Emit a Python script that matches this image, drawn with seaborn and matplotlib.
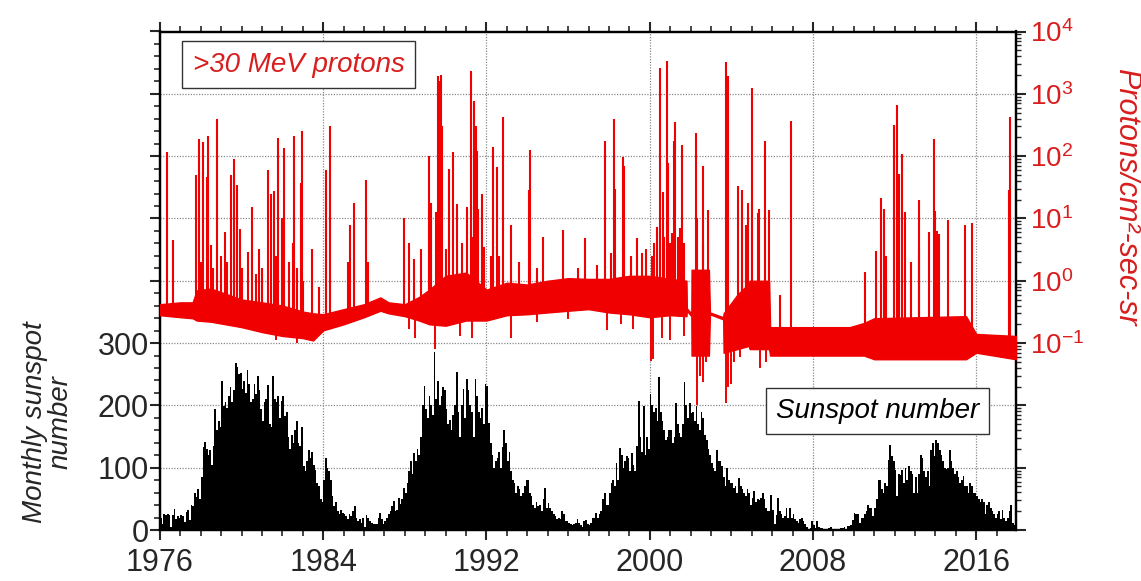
import numpy as np
import pandas as pd
import matplotlib
matplotlib.use("Agg")
import matplotlib.pyplot as plt
import seaborn as sns
from matplotlib.ticker import MultipleLocator, FixedLocator, FuncFormatter, LogLocator, NullFormatter

# ---------------- data ----------------
first_year = 1976
ssn_1976_1986 = [
    [19, 10, 26, 24, 26, 24, 5, 24, 33, 17, 23, 20],
    [24, 22, 13, 29, 32, 16, 40, 38, 60, 53, 66, 50],
    [85, 134, 141, 130, 120, 128, 105, 135, 194, 160, 175, 165],
    [239, 199, 205, 195, 215, 230, 205, 225, 268, 262, 250, 252],
    [226, 239, 220, 257, 235, 205, 210, 234, 218, 247, 225, 194],
    [175, 205, 210, 232, 170, 165, 247, 210, 205, 215, 180, 207],
    [215, 183, 190, 150, 130, 153, 140, 160, 175, 140, 135, 165],
    [102, 95, 110, 129, 115, 125, 105, 97, 75, 70, 50, 45],
    [81, 116, 100, 95, 80, 55, 38, 45, 30, 25, 32, 27],
    [26, 22, 18, 25, 22, 30, 39, 20, 15, 18, 11, 20],
    [5, 24, 20, 15, 12, 10, 10, 9, 20, 28, 18, 9],
]
ssn_1987_1996 = [
    [15, 20, 25, 30, 38, 46, 30, 32, 51, 42, 50, 67],
    [60, 75, 95, 110, 90, 124, 110, 130, 120, 150, 200, 231],
    [194, 180, 215, 200, 185, 285, 210, 239, 200, 215, 230, 225],
    [194, 170, 177, 160, 185, 200, 253, 190, 150, 200, 226, 180],
    [242, 225, 200, 190, 150, 242, 215, 190, 180, 195, 170, 234],
    [231, 172, 140, 120, 100, 110, 115, 125, 100, 134, 160, 140],
    [110, 125, 95, 81, 75, 60, 70, 65, 55, 60, 70, 81],
    [81, 60, 55, 40, 35, 45, 38, 40, 30, 50, 67, 35],
    [43, 35, 30, 25, 22, 18, 20, 17, 30, 25, 15, 15],
    [12, 10, 8, 10, 12, 18, 12, 8, 5, 14, 16, 10],
]
ssn_1997_2008 = [
    [8, 12, 20, 20, 28, 20, 25, 30, 50, 59, 40, 40],
    [60, 75, 81, 70, 108, 80, 132, 120, 100, 110, 118, 115],
    [95, 124, 105, 95, 135, 207, 150, 125, 199, 120, 150, 130],
    [218, 200, 190, 195, 175, 245, 190, 175, 160, 145, 150, 160],
    [160, 140, 150, 204, 170, 155, 150, 170, 237, 200, 180, 204],
    [188, 190, 175, 199, 170, 160, 190, 180, 153, 145, 130, 120],
    [108, 100, 95, 129, 110, 110, 102, 85, 70, 100, 80, 75],
    [75, 68, 70, 60, 83, 70, 65, 60, 54, 65, 60, 40],
    [52, 62, 45, 50, 48, 52, 59, 50, 35, 30, 30, 56],
    [32, 10, 24, 51, 30, 25, 20, 22, 35, 20, 35, 20],
    [25, 18, 15, 12, 18, 20, 15, 10, 5, 2, 3, 15],
    [8, 4, 15, 5, 4, 4, 1, 1, 2, 3, 5, 2],
]
ssn_2009_2017 = [
    [2, 2, 1, 1, 4, 4, 5, 0, 7, 7, 8, 16],
    [27, 25, 25, 12, 20, 20, 25, 30, 40, 35, 35, 22],
    [35, 50, 81, 80, 65, 60, 75, 70, 113, 137, 119, 110],
    [97, 55, 90, 88, 97, 75, 100, 80, 102, 95, 90, 60],
    [85, 60, 90, 121, 115, 95, 85, 95, 70, 129, 140, 118],
    [145, 140, 128, 120, 110, 100, 98, 100, 129, 110, 100, 90],
    [95, 85, 75, 80, 86, 70, 70, 60, 75, 70, 60, 60],
    [55, 50, 45, 50, 45, 25, 40, 45, 35, 30, 25, 20],
    [25, 30, 18, 32, 20, 15, 20, 30, 40, 12, 8, 15],
]

# proton background band (flux, protons/cm2-sec-sr)
band_years = [1976.0, 1977.0, 1977.6, 1977.8, 1978.5, 1980.0, 1981.0, 1982.0, 1983.0, 1983.5,
              1984.0, 1985.0, 1986.0, 1986.8, 1987.2, 1988.0, 1988.7, 1989.2, 1990.0, 1991.0,
              1992.0, 1993.0, 1994.0, 1995.0, 1996.0, 1997.0, 1998.0, 1999.0, 2000.0, 2001.0,
              2001.8, 2001.82, 2002.04, 2002.05, 2002.9, 2002.95, 2003.6, 2003.62, 2004.3, 2004.85,
              2004.9, 2005.85, 2005.9, 2009.8, 2010.5, 2011.0, 2015.5, 2016.0, 2017.95]
band_low = [0.28, 0.26, 0.25, 0.23, 0.22, 0.18, 0.15, 0.13, 0.12, 0.11,
            0.16, 0.20, 0.26, 0.33, 0.30, 0.27, 0.23, 0.20, 0.19, 0.23,
            0.23, 0.28, 0.29, 0.31, 0.33, 0.35, 0.31, 0.29, 0.26, 0.28,
            0.27, 0.33, 0.27, 0.063, 0.063, 0.29, 0.24, 0.07, 0.08, 0.09,
            0.08, 0.08, 0.063, 0.063, 0.063, 0.055, 0.055, 0.07, 0.055]
band_high = [0.42, 0.45, 0.45, 0.70, 0.75, 0.50, 0.45, 0.40, 0.32, 0.30,
             0.29, 0.35, 0.42, 0.54, 0.45, 0.42, 0.55, 0.72, 1.2, 1.35,
             0.72, 0.93, 0.87, 1.0, 1.1, 1.07, 1.07, 1.2, 1.2, 1.07,
             1.0, 0.36, 0.30, 1.5, 1.5, 0.31, 0.26, 0.30, 0.60, 0.90,
             1.0, 1.0, 0.18, 0.18, 0.21, 0.25, 0.27, 0.14, 0.13]

# solar proton events: time and peak flux
spike_years = [1976.36, 1976.65, 1977.75, 1977.91, 1978.0, 1978.12, 1978.30, 1978.37, 1978.48, 1978.6,
               1978.78, 1979.0, 1979.18, 1979.3, 1979.46, 1979.63, 1979.76, 1979.92, 1980.0, 1980.30,
               1980.52, 1980.7, 1980.83, 1981.0, 1981.31, 1981.45, 1981.59, 1981.7, 1981.80, 1982.00,
               1982.09, 1982.3, 1982.50, 1982.57, 1982.7, 1982.90, 1982.94, 1983.0, 1983.46, 1983.8,
               1984.12, 1984.33, 1985.20, 1985.31, 1985.50, 1986.09, 1986.20, 1987.97, 1988.20, 1988.45,
               1988.80, 1989.20, 1989.30, 1989.55, 1989.64, 1989.68, 1989.73, 1989.78, 1989.84, 1990.0,
               1990.16, 1990.37, 1990.57, 1990.8, 1991.06, 1991.24, 1991.3, 1991.40, 1991.47, 1991.52,
               1991.60, 1991.80, 1991.9, 1992.20, 1992.33, 1992.50, 1992.6, 1992.82, 1993.18, 1993.6,
               1994.10, 1994.13, 1994.5, 1994.78, 1995.76, 1996.5, 1996.84, 1997.4, 1997.80, 1998.1,
               1998.26, 1998.30, 1998.67, 1998.75, 1999.10, 1999.40, 1999.60, 1999.8, 2000.10, 2000.2,
               2000.37, 2000.50, 2000.65, 2000.7, 2000.86, 2000.90, 2001.0, 2001.10, 2001.20, 2001.26,
               2001.4, 2001.50, 2001.59, 2001.7, 2002.26, 2002.30, 2002.60, 2002.62, 2002.86, 2003.76,
               2003.83, 2004.33, 2004.53, 2004.70, 2004.82, 2005.02, 2005.31, 2005.35, 2005.64, 2005.85,
               2006.4, 2006.90, 2010.55, 2011.11, 2011.35, 2011.50, 2011.60, 2011.98, 2012.12, 2012.20,
               2012.34, 2012.50, 2012.80, 2013.19, 2013.20, 2013.69, 2013.92, 2014.00, 2014.10, 2014.20,
               2014.62, 2015.44, 2015.77, 2017.60, 2017.68]
spike_peaks = [117, 4.5, 50, 190, 2.0, 170, 47, 210, 3.7, 1.6,
               400, 2.5, 6.0, 2.0, 50, 89, 35, 6.8, 1.6, 2.9,
               15, 1.3, 3.2, 1.6, 59, 25, 28, 2.5, 195, 10,
               135, 2.0, 4.0, 210, 1.6, 37, 250, 1.0, 3.2, 0.8,
               59, 310, 2.0, 7.8, 18, 41, 2.0, 10, 4.0, 2.2,
               3.2, 100, 18, 12.6, 1950, 1400, 1600, 2000, 300, 3.2,
               63, 115, 17, 4.0, 15, 2300, 5.0, 780, 300, 120,
               14, 25, 3.5, 2.5, 140, 66, 2.5, 430, 7.8, 2.0,
               29, 126, 1.6, 5.1, 6.5, 1.6, 4.9, 1.8, 174, 2.8,
               400, 30, 98, 69, 2.5, 4.9, 2.8, 3.2, 2.5, 4.0,
               7.4, 2600, 27, 5.0, 3400, 79, 4.0, 5.9, 174, 350,
               5.0, 7.1, 150, 4.0, 234, 10, 4.0, 69, 13.8, 3200,
               1900, 33, 29, 7.9, 18, 1230, 12.3, 14, 174, 13.8,
               0.6, 370, 1.4, 3.0, 21, 14, 2.5, 316, 650, 52,
               110, 12.6, 2.0, 20, 3.2, 6.0, 186, 13.2, 6.3, 5.6,
               9.3, 7.9, 8.3, 29, 430]

# downward excursions of the background
dip_years = [1981.7, 1982.7, 1983.3, 1988.2, 1988.5, 1989.5, 1990.7, 1991.3, 1993.2, 1994.5,
             1996.0, 1997.9, 1998.6, 1999.2, 2000.04, 2000.15, 2000.6, 2001.0, 2001.7, 2002.3,
             2002.45, 2002.6, 2002.75, 2003.75, 2003.85, 2004.0, 2004.15, 2004.4, 2005.4, 2005.7]
dip_values = [0.11, 0.10, 0.115, 0.17, 0.12, 0.08, 0.13, 0.12, 0.12, 0.22,
              0.24, 0.16, 0.2, 0.17, 0.052, 0.055, 0.12, 0.11, 0.13, 0.01,
              0.03, 0.024, 0.05, 0.011, 0.02, 0.022, 0.05, 0.06, 0.04, 0.05]

x_major = [1976, 1984, 1992, 2000, 2008, 2016]
left_labelled = [0, 100, 200, 300]

# ---------------- style ----------------
sns.set_style("white")
plt.rcParams["font.family"] = ["Liberation Sans", "DejaVu Sans"]
plt.rcParams["mathtext.fontset"] = "custom"
plt.rcParams["mathtext.rm"] = "Liberation Sans"
plt.rcParams["mathtext.it"] = "Liberation Sans:italic"

RED = "#f00000"
TXT_RED = "#d81e1e"

fig = plt.figure(figsize=(11.41, 5.81), dpi=100)
ax = fig.add_axes([160 / 1141, 1 - 530 / 581, 856 / 1141, 498.5 / 581])
ax2 = ax.twinx()

# ---------------- sunspots ----------------
ssn = np.array(ssn_1976_1986 + ssn_1987_1996 + ssn_1997_2008 + ssn_2009_2017, dtype=float).ravel()
month_centers = first_year + (np.arange(len(ssn)) + 0.5) / 12.0
df_ssn = pd.DataFrame({"t": month_centers, "ssn": ssn})
sns.histplot(data=df_ssn, x="t", weights="ssn", binwidth=1 / 12.0,
             binrange=(first_year, first_year + len(ssn) / 12.0), element="bars", fill=True,
             color="black", alpha=1.0, edgecolor="none", linewidth=0, antialiased=False,
             ax=ax, zorder=2)

ax.set_xlim(1976, 2017.95)
ax.set_ylim(0, 800)
ax.set_ylabel("")
ax.set_xlabel("")
ax.set_axisbelow(True)
ax.yaxis.set_major_locator(MultipleLocator(100))
ax.yaxis.set_minor_locator(MultipleLocator(20))
ax.yaxis.set_major_formatter(FuncFormatter(lambda v, p: f"{int(v)}" if int(round(v)) in left_labelled else ""))
ax.xaxis.set_major_locator(FixedLocator(x_major))
ax.xaxis.set_minor_locator(MultipleLocator(1))
ax.xaxis.set_major_formatter(FuncFormatter(lambda v, p: f"{int(round(v))}"))
ax.grid(True, which="major", axis="both", color="#8a8a8a", linestyle=(0, (1, 1.2)), linewidth=0.9)
ax.tick_params(axis="x", which="both", direction="out", top=True, bottom=True, labelsize=22, pad=6)
ax.tick_params(axis="y", which="both", direction="out", left=True, right=False, labelsize=22, pad=1)
ax.tick_params(which="major", length=7, width=1.5)
ax.tick_params(which="minor", length=4, width=1.2)
for s in ax.spines.values():
    s.set_linewidth(1.6)
    s.set_color("black")

# ---------------- protons ----------------
ax2.set_yscale("log")
ax2.set_ylim(1e-4, 1e4)
ax2.fill_between(band_years, band_low, band_high, color=RED, linewidth=1.0, edgecolor=RED, zorder=3)
log_low = np.log10(band_low)
spike_base = 10 ** np.interp(spike_years, band_years, log_low)
ax2.vlines(spike_years, spike_base, spike_peaks, color=RED, linewidth=1.5, zorder=3)
dip_top = 10 ** np.interp(dip_years, band_years, log_low)
ax2.vlines(dip_years, dip_values, dip_top, color=RED, linewidth=1.4, zorder=3)

ax2.yaxis.set_major_locator(LogLocator(base=10, numticks=20))
ax2.yaxis.set_minor_locator(LogLocator(base=10, subs=np.arange(2, 10), numticks=20))
ax2.yaxis.set_minor_formatter(NullFormatter())
ax2.yaxis.set_major_formatter(FuncFormatter(
    lambda v, p: r"$\mathregular{10^{%d}}$" % int(round(np.log10(v))) if v > 0.05 else ""))
ax2.tick_params(axis="y", which="both", direction="out", right=True, left=False,
                labelsize=20, labelcolor=TXT_RED, pad=3)
ax2.tick_params(which="major", length=7, width=1.5)
ax2.tick_params(which="minor", length=3.5, width=1.0)
for s in ax2.spines.values():
    s.set_linewidth(1.6)
    s.set_color("black")
ax2.grid(False)

# ---------------- labels / legends ----------------
fig.text(48 / 1141, 1 - 422 / 581, "Monthly sunspot\nnumber", rotation=90, ha="center", va="center",
         fontsize=20, style="italic", multialignment="center", linespacing=1.0)
fig.text(1126 / 1141, 1 - 197 / 581, "Protons/cm²-sec-sr", rotation=270, ha="center", va="center",
         fontsize=22, style="italic", color=TXT_RED)

ax.text(0.162, 0.933, ">30 MeV protons", transform=ax.transAxes, ha="center", va="center",
        fontsize=20, style="italic", color=TXT_RED, zorder=10,
        bbox=dict(boxstyle="square,pad=0.38", facecolor="white", edgecolor="#333333", linewidth=1.0))
ax2.text(0.838, 0.238, "Sunspot number", transform=ax.transAxes, ha="center", va="center",
         fontsize=20, style="italic", color="black", zorder=10,
         bbox=dict(boxstyle="square,pad=0.36", facecolor="white", edgecolor="#333333", linewidth=1.0))

fig.savefig("out.png", dpi=100)
